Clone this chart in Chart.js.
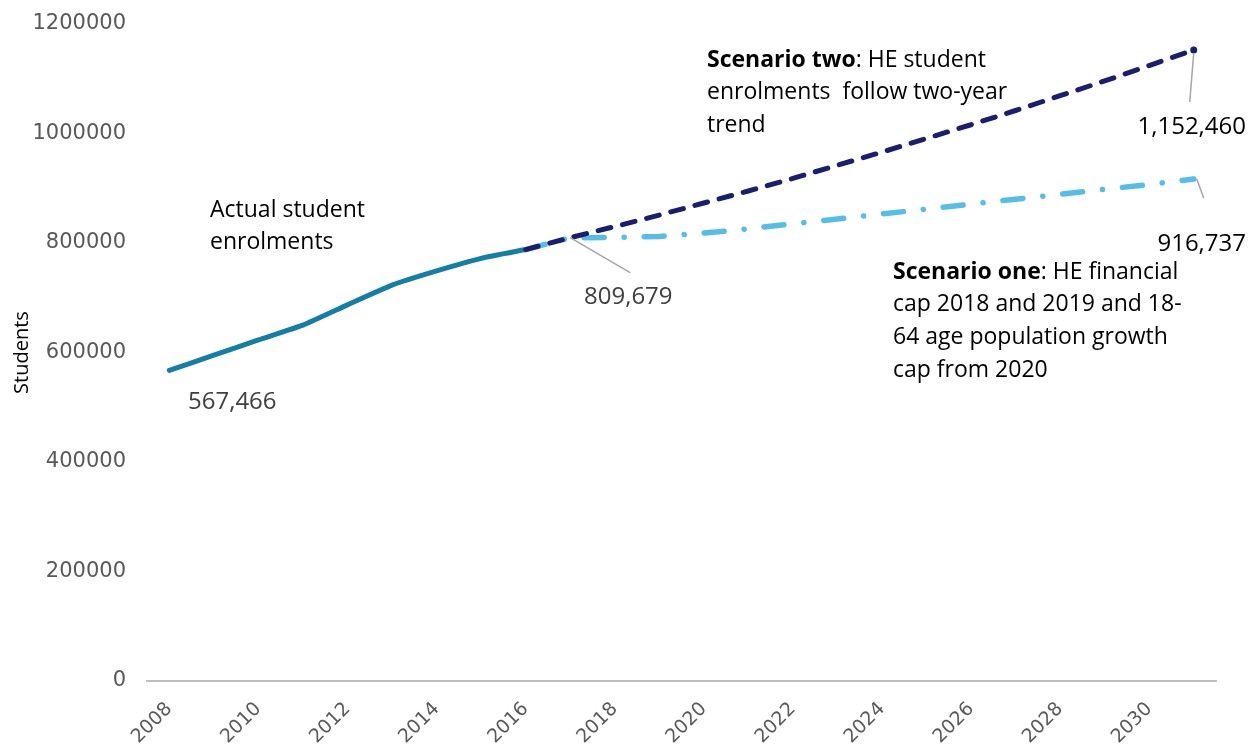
<!DOCTYPE html>
<html><head><meta charset="utf-8">
<script src="https://cdn.jsdelivr.net/npm/chart.js@4.4.1/dist/chart.umd.min.js"></script>
<style>html,body{margin:0;padding:0;background:#fff;}#wrap{width:1248px;height:749px;}</style>
</head><body><div id="wrap"><canvas id="c" width="1248" height="749"></canvas></div>
<script>
const years = ['2008','2009','2010','2011','2012','2013','2014','2015','2016','2017','2018','2019','2020','2021','2022','2023','2024','2025','2026','2027','2028','2029','2030','2031'];
const actual = [567466, 595000, 623000, 650000, 687000, 723000, 749000, 772000, 788000, null, null, null, null, null, null, null, null, null, null, null, null, null, null, null];
const scenarioOne = [null, null, null, null, null, null, null, null, 788000, 809679, 810000, 812000, 818000, 826000, 835000, 844000, 853000, 862000, 871000, 880000, 889000, 898000, 907000, 916737];
const scenarioTwo = [null, null, null, null, null, null, null, null, 788000, 809679, 830000, 851000, 873000, 895000, 918000, 942000, 966000, 991000, 1016000, 1042000, 1069000, 1096000, 1124000, 1152460];
const yTicks = [0, 200000, 400000, 600000, 800000, 1000000, 1200000];

const FONT = '"Open Sans", "Noto Sans", sans-serif';
const last = years.length - 1;

const annotate = {
  id: 'annotate',
  afterDatasetsDraw(chart) {
    const ctx = chart.ctx, xs = chart.scales.x, ys = chart.scales.y;
    const px = (i, v) => [xs.getPixelForValue(i), ys.getPixelForValue(v)];
    ctx.save();
    ctx.strokeStyle = '#A6A6A6'; ctx.lineWidth = 1.5;
    const lead = (p, q) => { ctx.beginPath(); ctx.moveTo(p[0], p[1]); ctx.lineTo(q[0], q[1]); ctx.stroke(); };
    const j = px(9, scenarioOne[9]);
    lead(j, [j[0] + 60, j[1] + 35]);
    const t = px(last, scenarioTwo[last]);
    lead([t[0], t[1] + 3], [t[0] - 4, t[1] + 52]);
    const o = px(last, scenarioOne[last]);
    lead([o[0] + 3, o[1]], [o[0] + 10, o[1] + 19]);

    ctx.textBaseline = 'middle';
    const line = (parts, x, y, size, color, align) => {
      let w = 0;
      parts.forEach(p => { ctx.font = (p.b ? 'bold ' : '') + size + 'px ' + FONT; w += ctx.measureText(p.t).width; });
      let cx = align === 'right' ? x - w : x;
      ctx.fillStyle = color; ctx.textAlign = 'left';
      parts.forEach(p => { ctx.font = (p.b ? 'bold ' : '') + size + 'px ' + FONT; ctx.fillText(p.t, cx, y); cx += ctx.measureText(p.t).width; });
    };
    const fmt = v => v.toLocaleString('en-US');
    line([{t: fmt(actual[0])}], 188, 402, 24, '#404040');
    line([{t: fmt(scenarioOne[9])}], 584, 297, 24, '#404040');
    line([{t: fmt(scenarioTwo[last])}], 1246, 127, 24, '#000000', 'right');
    line([{t: fmt(scenarioOne[last])}], 1246, 244, 24, '#000000', 'right');
    const block = (rows, x, y0, dy) => rows.forEach((r, k) => line(r, x, y0 + k * dy, 23, '#000000'));
    block([[{t: 'Actual student'}], [{t: 'enrolments'}]], 210, 210, 32);
    block([[{t: 'Scenario two', b: true}, {t: ': HE student'}], [{t: 'enrolments  follow two-year'}], [{t: 'trend'}]], 707, 60, 32.5);
    block([[{t: 'Scenario one', b: true}, {t: ': HE financial'}], [{t: 'cap 2018 and 2019 and 18-'}], [{t: '64 age population growth'}], [{t: 'cap from 2020'}]], 893, 272, 32.7);
    ctx.restore();
  }
};

new Chart(document.getElementById('c'), {
  type: 'line',
  data: {
    labels: years,
    datasets: [
      { label: 'Scenario two', data: scenarioTwo, borderColor: '#1B1E6E', backgroundColor: '#1B1E6E', borderWidth: 5,
        borderDash: [13, 12], borderCapStyle: 'round', pointRadius: c => c.dataIndex === last ? 3.5 : 0, pointBorderWidth: 0, tension: 0 },
      { label: 'Scenario one', data: scenarioOne, borderColor: '#55BEE8', backgroundColor: '#55BEE8', borderWidth: 5.5,
        borderDash: [20, 20, 0.1, 20], borderCapStyle: 'round', pointRadius: 0, tension: 0 },
      { label: 'Actual', data: actual, borderColor: '#137FA6', backgroundColor: '#137FA6', borderWidth: 5,
        borderCapStyle: 'round', borderJoinStyle: 'round', pointRadius: 0, tension: 0.15 }
    ]
  },
  options: {
    responsive: false, animation: false, devicePixelRatio: 1,
    layout: { padding: { top: 24, right: 32, left: 0, bottom: 0 } },
    plugins: { legend: { display: false }, tooltip: { enabled: false } },
    scales: {
      x: {
        offset: true,
        grid: { display: false, drawTicks: false },
        border: { display: true, color: '#BFBFBF', width: 2 },
        ticks: { autoSkip: false, maxRotation: 45, minRotation: 45, padding: 17, color: '#595959',
          font: { family: '"DejaVu Sans", sans-serif', size: 19 },
          callback: (v, i) => i % 2 === 0 ? years[i] : '' },
        afterFit: s => { s.height = 68; }
      },
      y: {
        min: 0, max: 1200000,
        grid: { display: false, drawTicks: false },
        border: { display: false },
        afterBuildTicks: s => { s.ticks = yTicks.map(v => ({ value: v })); },
        ticks: { padding: 21, color: '#595959', font: { family: '"DejaVu Sans", sans-serif', size: 21 },
          callback: v => String(v) },
        title: { display: true, text: 'Students', color: '#000000', font: { family: FONT, size: 20 }, padding: { top: 10, bottom: 0 } },
        afterFit: s => { s.width = 147; s.paddingTop = 0; s.paddingBottom = 0; }
      }
    }
  },
  plugins: [annotate]
});
</script>
</body></html>
